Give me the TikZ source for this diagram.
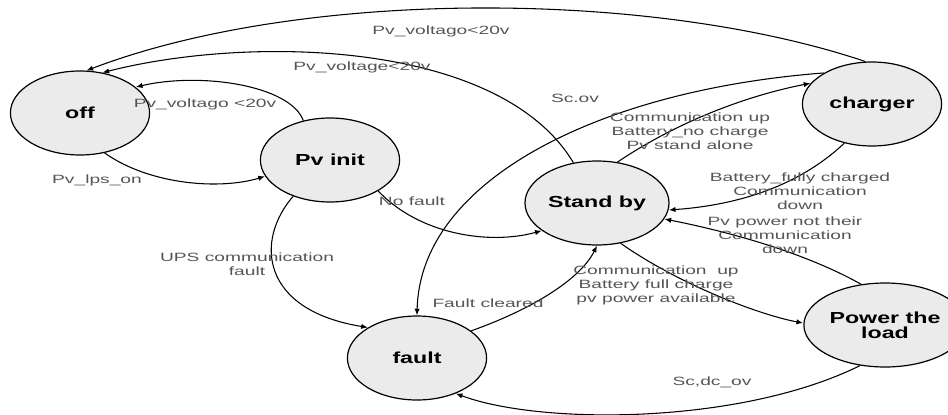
\documentclass[tikz,border=0pt]{standalone}
\usepackage{fontspec}
\setmainfont{Liberation Sans}
\usetikzlibrary{shapes.geometric,arrows.meta}
\definecolor{stategray}{HTML}{EBEBEB}
\definecolor{condgray}{HTML}{555555}
\begin{document}
\begin{tikzpicture}[
    x=0.75pt, y=-0.75pt,
    phase/.style={draw, ellipse, line width=0.9pt, fill=stategray, xscale=1.45, minimum width=72pt, minimum height=63pt, align=center, inner sep=1pt, font=\bfseries\fontsize{12}{11.5}\selectfont},
    cond/.style={text=condgray, xscale=1.6, align=center, inner sep=0pt, font=\fontsize{9}{10.5}\selectfont},
    trans/.style={draw, line width=0.8pt, -{Latex[length=5pt,width=4pt]}}
]
\path[use as bounding box] (0,0) rectangle (948,414);

\node[phase] (off) at (80,113) {off};
\node[phase] (pvinit) at (330,160) {Pv init};
\node[phase] (standby) at (597,203) {Stand by};
\node[phase] (charger) at (872,104) {charger};
\node[phase] (power) at (885,325) {Power the\\load};
\node[phase] (fault) at (417,358) {fault};

% back to off
\draw[trans] (charger.96) .. controls (650,-11) and (300,-11) .. (off.84);
\draw[trans] (standby.112) .. controls (500,40) and (250,35) .. (off.69);
\draw[trans] (pvinit.115) .. controls (290,85) and (200,72) .. (off.34);
\draw[trans] (off.-67) .. controls (150,185) and (220,190) .. (pvinit.200);
\draw[trans] (pvinit.-43) .. controls (420,235) and (490,245) .. (standby.216);
\draw[trans] (pvinit.235) .. controls (255,240) and (260,310) .. (fault.138);
\draw[trans] (charger.137) .. controls (600,90) and (420,180) .. (fault.90);
% around stand by
\draw[trans] (standby.71) .. controls (680,120) and (750,95) .. (charger.154);
\draw[trans] (charger.244) .. controls (800,185) and (740,205) .. (standby.-8);
\draw[trans] (power.112) .. controls (800,250) and (720,230) .. (standby.-19);
\draw[trans] (fault.36) .. controls (530,310) and (580,280) .. (standby.270);
\draw[trans] (standby.292) .. controls (680,285) and (760,315) .. (power.178);
\draw[trans] (power.247) .. controls (740,425) and (540,425) .. (fault.307);

% conditions
\node[cond] (vtop) at (441,31) {Pv\_voltago<20v};
\node[cond] (vmid) at (362,67) {Pv\_voltage<20v};
\node[cond] (vlow) at (205,104) {Pv\_voltago <20v};
\node[cond] (lpson) at (97,180) {Pv\_lps\_on};
\node[cond] (nofault) at (412,201) {No fault};
\node[cond] (upsfault) at (247,264) {UPS communication\\fault};
\node[cond] (scov) at (575,98) {Sc.ov};
\node[cond] (nocharge) at (690,131) {Communication up\\Battery\_no charge\\Pv stand alone};
\node[cond] (fully) at (800,191) {Battery\_fully charged\\Communication\\down};
\node[cond] (notthere) at (785,235) {Pv power not their\\Communication\\down};
\node[cond] (cleared) at (488,303) {Fault cleared};
\node[cond] (fullcharge) at (656,285) {Communication\ \ up\\Battery full charge\\pv power available};
\node[cond] (scdcov) at (712,382) {Sc,dc\_ov};
\end{tikzpicture}
\end{document}
